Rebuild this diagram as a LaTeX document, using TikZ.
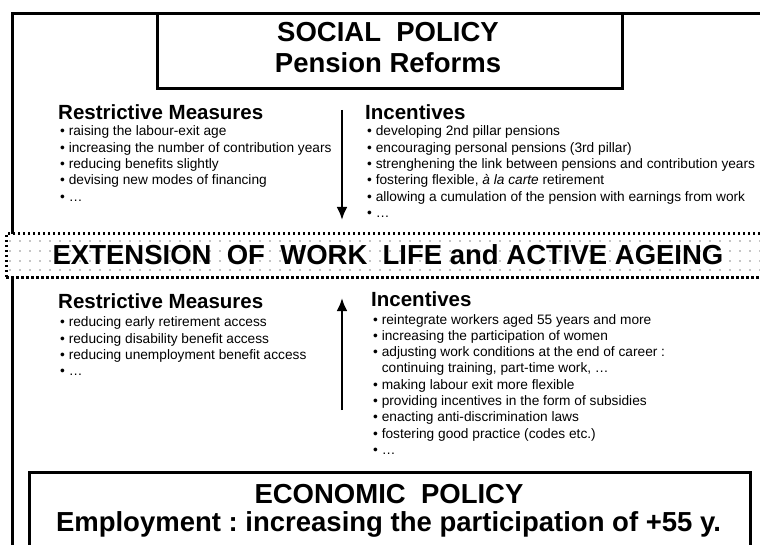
\documentclass[tikz,border=0pt]{standalone}
\usepackage{fontspec}
\setmainfont{Liberation Sans}
\usetikzlibrary{arrows.meta,positioning}
\frenchspacing

\tikzset{
  frame/.style={line width=3pt},
  policybox/.style={draw, line width=3pt, fill=white, inner sep=0pt, outer sep=0pt},
  title/.style={font=\fontsize{27.5}{31}\selectfont\bfseries, inner sep=0pt, anchor=base},
  head/.style={font=\fontsize{20.5}{24}\selectfont\bfseries, inner sep=0pt, anchor=base west},
  item/.style={font=\fontsize{13.7}{16}\selectfont, inner sep=0pt, anchor=base west},
  band/.style={draw, line width=3pt, dash pattern=on 2.5pt off 2.5pt, fill=white, inner sep=0pt, outer sep=0pt},
  griddot/.style={fill=gray!45},
  flow/.style={line width=2.5pt, -{Latex[length=13pt,width=11pt]}}
}

\begin{document}
\begin{tikzpicture}[x=1pt,y=-1pt]
  \useasboundingbox (0,0) rectangle (760,545);
  \clip (0,0) rectangle (760,545);

  % outer frame
  \draw [frame] (12,570) -- (12,13.5) -- (790,13.5);

  % social policy
  \node [policybox, minimum width=465pt, minimum height=74.5pt] (social) at (389.5,51) {};
  \node [title] (socialA) at (388,42) {SOCIAL\ \ POLICY};
  \node [title] (socialB) at (388,73) {Pension Reforms};

  % upper lists
  \node [head] (restrA) at (58,120) {Restrictive Measures};
  \foreach \txt [count=\i] in {raising the labour-exit age,
      increasing the number of contribution years,
      reducing benefits slightly,
      devising new modes of financing, …}
    \node [item] (restrA\i) at (60,119.7+16.3*\i) {•\ \txt};

  \node [head] (incentA) at (365,120) {Incentives};
  \foreach \txt [count=\i] in {developing 2nd pillar pensions,
      encouraging personal pensions (3rd pillar),
      strenghening the link between pensions and contribution years,
      {fostering flexible, \textit{à la carte} retirement},
      allowing a cumulation of the pension with earnings from work, …}
    \node [item] (incentA\i) at (367,119.7+16.3*\i) {•\ \txt};

  \coordinate (downtop) at (342,110);
  \coordinate (downbot) at (342,220);
  \draw [flow] (downtop) -- (downbot);

  % extension band
  \node [band, minimum width=800pt, minimum height=44pt, anchor=north west] (ext) at (6,234) {};
  \begin{scope}
    \clip (8,236) rectangle (790,276);
    \foreach \y in {242,252,262,271}
      \foreach \x in {9,19,...,759}
        \fill [griddot] (\x,\y) rectangle ++(1.6,-1.6);
  \end{scope}
  \node [title] (extT) at (388,265) {EXTENSION\ \ OF\ \ WORK\ \ LIFE and ACTIVE AGEING};

  % lower lists
  \node [head] (restrB) at (58,308.5) {Restrictive Measures};
  \foreach \txt [count=\i] in {reducing early retirement access,
      reducing disability benefit access,
      reducing unemployment benefit access, …}
    \node [item] (restrB\i) at (60,310.5+16.3*\i) {•\ \txt};

  \node [head] (incentB) at (371,306) {Incentives};
  \foreach \txt [count=\i] in {reintegrate workers aged 55 years and more,
      increasing the participation of women,
      adjusting work conditions at the end of career :,
      {\hphantom{•}\ continuing training, part-time work, …},
      making labour exit more flexible,
      providing incentives in the form of subsidies,
      enacting anti-discrimination laws,
      fostering good practice (codes etc.), …}
    \node [item] (incentB\i) at (373,307.7+16.3*\i) {\ifnum\i=4 \txt\else •\ \txt\fi};

  \coordinate (upbot) at (342,410);
  \coordinate (uptop) at (342,298);
  \draw [flow] (upbot) -- (uptop);

  % economic policy
  \node [policybox, minimum width=721pt, minimum height=120pt] (econ) at (389.5,532.5) {};
  \node [title] (econA) at (389,503) {ECONOMIC\ \ POLICY};
  \node [title] (econB) at (388.5,531) {Employment : increasing the participation of +55 y.};
\end{tikzpicture}
\end{document}
